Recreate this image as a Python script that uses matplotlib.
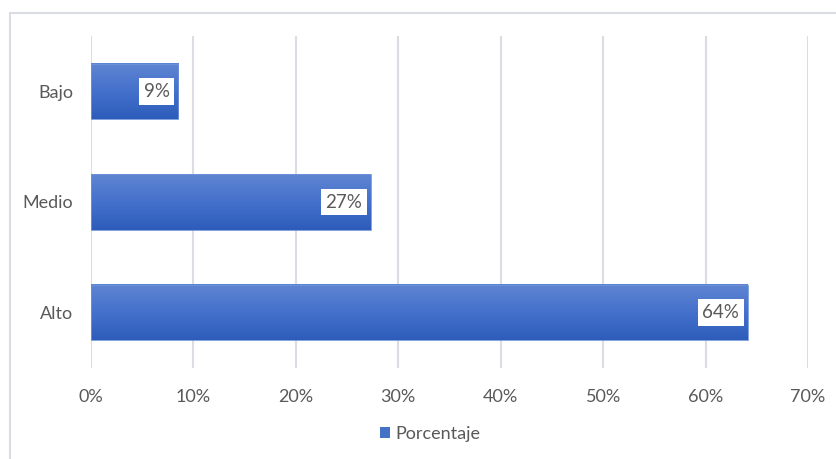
import matplotlib.pyplot as plt
import numpy as np
from matplotlib.colors import LinearSegmentedColormap
from matplotlib.patches import Rectangle

# datos
categorias = ['Alto', 'Medio', 'Bajo']
valores = [0.641, 0.273, 0.085]
etiquetas = ['64%', '27%', '9%']
ticks_x = [0, 0.1, 0.2, 0.3, 0.4, 0.5, 0.6, 0.7]
serie = 'Porcentaje'

plt.rcParams['font.family'] = ['Lato', 'DejaVu Sans']
gris = '#595959'

fig = plt.figure(figsize=(8.36, 4.59), dpi=100)
ax = fig.add_axes([91 / 836, 1 - 368 / 459, 717 / 836, 332 / 459])

# marco del gráfico (solo se ven borde superior e izquierdo)
fig.patches.append(Rectangle((10 / 836, -0.1), 1.2, 1 - 13 / 459 + 0.1,
                             transform=fig.transFigure, fill=False,
                             edgecolor='#d9dde3', linewidth=1.5))

cmap = LinearSegmentedColormap.from_list('azul', ['#2d5cba', '#4471cc', '#5f85d2'])
grad = np.linspace(0, 1, 100).reshape(-1, 1)

y = np.arange(len(categorias))
alto_barra = 0.5
barras = ax.barh(y, valores, height=alto_barra, color='none', edgecolor='#6f93d8',
                 linewidth=0.6, zorder=3, label=serie)
for b in barras:
    x0, y0 = b.get_x(), b.get_y()
    ax.imshow(grad, cmap=cmap, origin='lower', aspect='auto', zorder=2,
              extent=[x0, x0 + b.get_width(), y0, y0 + b.get_height()])

for yi, v, t in zip(y, valores, etiquetas):
    ax.annotate(t, (v, yi), xytext=(-6, 0), textcoords='offset points',
                ha='right', va='center', fontsize=13.5, color=gris, zorder=5,
                bbox=dict(boxstyle='square,pad=0.25', fc='white', ec='none'))

ax.set_xlim(0, 0.7)
ax.set_ylim(-0.5, len(categorias) - 0.5)
ax.set_xticks(ticks_x)
ax.set_xticklabels([f'{int(round(t * 100))}%' for t in ticks_x])
ax.set_yticks(y)
ax.set_yticklabels(categorias)
ax.tick_params(axis='both', length=0, labelsize=13, labelcolor=gris)
ax.tick_params(axis='x', pad=15)
ax.tick_params(axis='y', pad=13)
ax.grid(axis='x', color='#dadde3', linewidth=1.5, zorder=0)
ax.set_axisbelow(True)
for s in ax.spines.values():
    s.set_visible(False)

h = [Rectangle((0, 0), 1, 1, fc='#4472c4', ec='none')]
fig.legend(h, [serie], loc='center', bbox_to_anchor=(430 / 836, 1 - 434 / 459),
           frameon=False, fontsize=13, labelcolor=gris, handlelength=0.55,
           handleheight=0.55, handletextpad=0.3)

fig.savefig('out.png', dpi=100)
